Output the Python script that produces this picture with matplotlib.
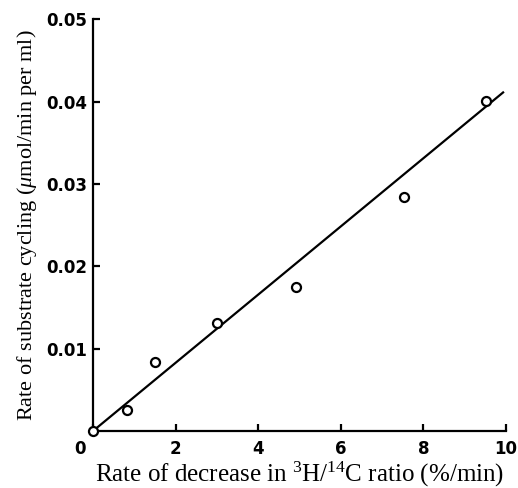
import matplotlib
matplotlib.use('Agg')
import matplotlib.pyplot as plt
import matplotlib.transforms as mtransforms

# measured points
decrease_rate = [0.0, 0.82, 1.5, 3.0, 4.92, 7.53, 9.52]
cycling_rate = [0.0, 0.0026, 0.0084, 0.0131, 0.0175, 0.0284, 0.0401]

# fitted line end points
fit_x = [0.0, 9.93]
fit_y = [0.0, 0.0411]

x_ticks = [0, 2, 4, 6, 8, 10]
x_tick_labels = ['0', '2', '4', '6', '8', '10']
y_ticks = [0.01, 0.02, 0.03, 0.04, 0.05]
y_tick_labels = ['0.01', '0.02', '0.03', '0.04', '0.05']

plt.rcParams.update({
    'mathtext.fontset': 'custom',
    'mathtext.rm': 'Liberation Serif',
    'mathtext.it': 'Liberation Serif:italic',
})

fig = plt.figure(figsize=(5.18, 4.88), dpi=100)
ax = fig.add_axes([0.1795, 0.1168, 0.7973, 0.844])

ax.plot(fit_x, fit_y, '-', color='black', linewidth=1.6, zorder=2)
ax.plot(decrease_rate, cycling_rate, 'o', markersize=6.5, markerfacecolor='white',
        markeredgecolor='black', markeredgewidth=1.6, clip_on=False, zorder=3)

ax.set_xlim(0, 10)
ax.set_ylim(0, 0.05)

for side in ['top', 'right']:
    ax.spines[side].set_visible(False)
for side in ['left', 'bottom']:
    ax.spines[side].set_linewidth(1.6)

ax.set_xticks(x_ticks)
ax.set_xticklabels(x_tick_labels, fontfamily='DejaVu Sans', fontweight='bold', fontsize=12)
ax.set_yticks(y_ticks)
ax.set_yticklabels(y_tick_labels, fontfamily='DejaVu Sans', fontweight='bold', fontsize=12)
ax.tick_params(axis='both', direction='in', length=5, width=1.6)
ax.tick_params(axis='x', pad=6.5)
ax.tick_params(axis='y', pad=4.3)

# the "0" sits left of the origin
zero_lbl = ax.get_xticklabels()[0]
zero_lbl.set_transform(zero_lbl.get_transform() +
                       mtransforms.ScaledTranslation(-0.13, 0, fig.dpi_scale_trans))

ax.set_xlabel('Rate of decrease in $^{3}$H/$^{14}$C ratio (%/min)',
              fontfamily='Liberation Serif', fontsize=18, labelpad=1)
ax.set_ylabel('Rate of substrate cycling ($\\mu$mol/min per ml)',
              fontfamily='Liberation Serif', fontsize=16, labelpad=5)

fig.savefig('out.png', dpi=100)
